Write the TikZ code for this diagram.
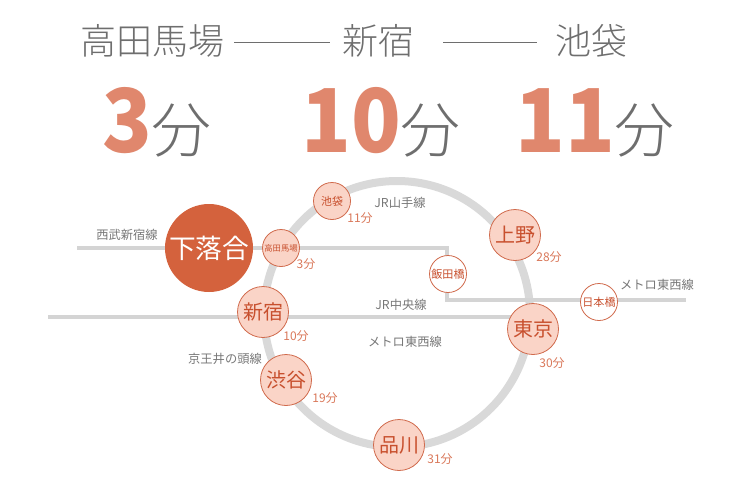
\documentclass[tikz,border=0pt]{standalone}
\usepackage{fontspec}
\setmainfont{Noto Sans CJK JP}
\newfontfamily\lightfont{Noto Sans CJK JP Light}
\definecolor{ringgray}{HTML}{D9D9D9}
\definecolor{railgray}{HTML}{D4D4D4}
\definecolor{darkor}{HTML}{D4623D}
\definecolor{stapink}{HTML}{FAD4C7}
\definecolor{stared}{HTML}{D06A4C}
\definecolor{statext}{HTML}{C8502E}
\definecolor{timec}{HTML}{D9785A}
\definecolor{bignum}{HTML}{E0876D}
\definecolor{labgray}{HTML}{777777}
\definecolor{headgray}{HTML}{6E6E6E}
\newcommand{\bignumtext}[1]{\textcolor{bignum}{\scalebox{0.93}[1]{\fontsize{66}{70}\selectfont\bfseries #1}}\textcolor{headgray}{\fontsize{45}{50}\selectfont\lightfont 分}}
\begin{document}
\begin{tikzpicture}[x=0.75pt,y=-0.75pt,
  rail/.style={draw=railgray, line width=3pt},
  sta/.style={circle, draw=stared, fill=stapink, line width=0.6pt, inner sep=0pt, text=statext},
  stab/.style={sta, minimum size=38.25pt, font=\fontsize{15}{16}\selectfont},
  stas/.style={sta, minimum size=27.75pt},
  staw/.style={stas, fill=white, font=\fontsize{8.3}{9}\selectfont},
  tm/.style={text=timec, font=\fontsize{9}{10}\selectfont, inner sep=0pt},
  lbl/.style={text=labgray, font=\fontsize{9.2}{10}\selectfont, inner sep=0pt},
  head/.style={text=headgray, font=\fontsize{27}{30}\selectfont\lightfont, inner sep=0pt},
  num/.style={inner sep=0pt, anchor=base},
  hline/.style={draw=headgray, line width=0.75pt}
]
\useasboundingbox (0,0) rectangle (753,500);
% header
\node[head] (h1) at (152,41) {高田馬場};
\node[head] (h2) at (378,41) {新宿};
\node[head] (h3) at (591,41) {池袋};
\coordinate (l1a) at (234,42);
\coordinate (l1b) at (330,42);
\coordinate (l2a) at (443,42);
\coordinate (l2b) at (537,42);
\draw[hline] (l1a) -- (l1b);
\draw[hline] (l2a) -- (l2b);
\node[num] (n1) at (157,152) {\bignumtext{3}};
\node[num] (n2) at (381,152) {\bignumtext{10}};
\node[num] (n3) at (595,152) {\bignumtext{11}};
% rail lines
\coordinate (ringc) at (397,314);
\draw[draw=ringgray, line width=6pt] (ringc) circle[radius=133];
\coordinate (seibuW) at (77,248);
\coordinate (bend1) at (447,248);
\coordinate (bend2) at (447,300);
\coordinate (tozaiE) at (686,300);
\coordinate (chuoW) at (48,317);
\coordinate (chuoE) at (530,317);
\draw[rail] (seibuW) -- (bend1) -- (bend2) -- (tozaiE);
\draw[rail] (chuoW) -- (chuoE);
% line labels
\node[lbl] (lseibu) at (127,235) {西武新宿線};
\node[lbl] (lyama) at (400,203) {JR山手線};
\node[lbl] (lchuo) at (401,305) {JR中央線};
\node[lbl] (ltozai) at (405,342) {メトロ東西線};
\node[lbl] (ltozai2) at (657,285) {メトロ東西線};
\node[lbl] (lkeio) at (225,359) {京王井の頭線};
% stations
\node[circle, fill=darkor, minimum size=66pt, inner sep=0pt, text=white, font=\fontsize{20}{22}\selectfont] (shimo) at (209,248) {下落合};
\node[stas, font=\fontsize{6.2}{7}\selectfont] (taka) at (281,248) {高田馬場};
\node[stas, font=\fontsize{8.2}{9}\selectfont] (ike) at (332,201) {池袋};
\node[stab] (shin) at (263,312) {新宿};
\node[stab] (shibu) at (286,380) {渋谷};
\node[stab] (shina) at (399,445) {品川};
\node[stab] (tokyo) at (533,329) {東京};
\node[stab] (ueno) at (515,235) {上野};
\node[staw] (iida) at (448,274) {飯田橋};
\node[staw] (nihon) at (599,302) {日本橋};
% times
\node[tm] (t1) at (360,218) {11分};
\node[tm] (t2) at (306,264) {3分};
\node[tm] (t3) at (296,336) {10分};
\node[tm] (t4) at (325,398) {19分};
\node[tm] (t5) at (440,459) {31分};
\node[tm] (t6) at (552,363) {30分};
\node[tm] (t7) at (549,257) {28分};
\end{tikzpicture}
\end{document}
